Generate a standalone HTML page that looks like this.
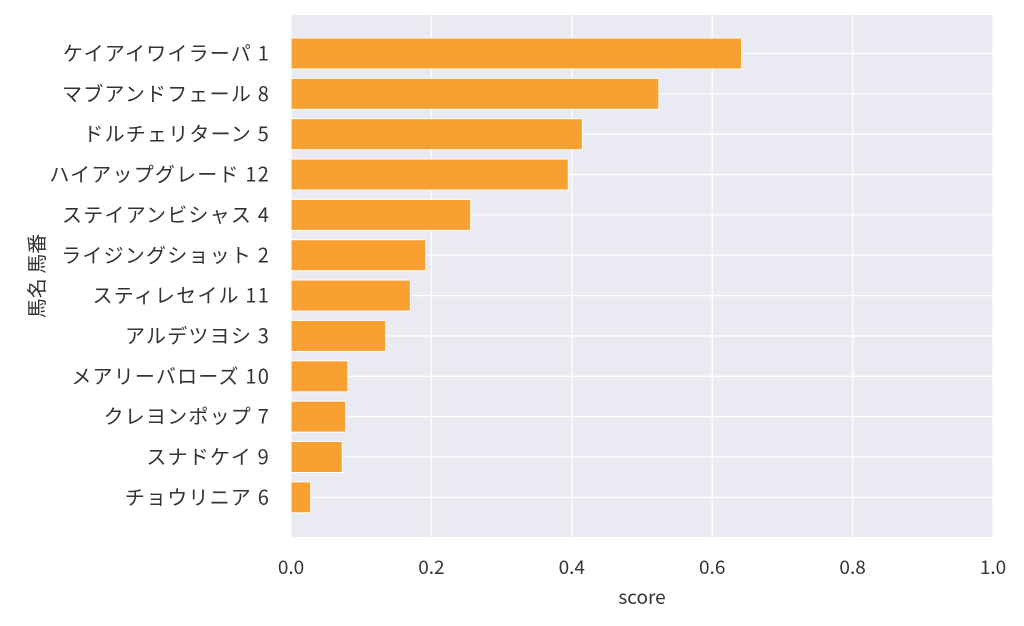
<!DOCTYPE html>
<html><head><meta charset="utf-8"><style>
body{margin:0;background:#fff;}
svg text{font-family:"Noto Sans CJK JP","Liberation Sans",sans-serif;fill:#333;}
</style></head><body>
<svg id="chart" width="1024" height="621" xmlns="http://www.w3.org/2000/svg">
<rect x="291" y="15" width="702" height="522" fill="#eaeaf2"/>
<g id="grid"></g><g id="bars"></g><g id="yticks"></g><g id="xticks"></g>
<text x="642" y="604" font-size="19" text-anchor="middle">score</text>
<text transform="translate(44,276) rotate(-90)" font-size="20" text-anchor="middle">馬名 馬番</text>
</svg>
<script>
const categories=["ケイアイワイラーパ 1","マブアンドフェール 8","ドルチェリターン 5","ハイアップグレード 12","ステイアンビシャス 4","ライジングショット 2","スティレセイル 11","アルデツヨシ 3","メアリーバローズ 10","クレヨンポップ 7","スナドケイ 9","チョウリニア 6"];
const scores=[0.642,0.524,0.415,0.395,0.256,0.192,0.170,0.135,0.081,0.078,0.073,0.028];
const xTicks=[0,0.2,0.4,0.6,0.8,1.0];
const xTickLabels=["0.0","0.2","0.4","0.6","0.8","1.0"];
const NS="http://www.w3.org/2000/svg";
const x=v=>291+v*702;
const y=i=>53.5+i*40.35;
function mk(t,a,p){const e=document.createElementNS(NS,t);for(const k in a)e.setAttribute(k,a[k]);p.appendChild(e);return e;}
const grid=document.getElementById('grid'),bars=document.getElementById('bars'),yt=document.getElementById('yticks'),xt=document.getElementById('xticks');
xTicks.forEach((v,i)=>{
 const l=mk('line',{x1:x(v),x2:x(v),y1:15,y2:537,stroke:'#fff','stroke-width':1.3},grid);
 
 
 const t=mk('text',{x:x(v),y:574,'font-size':19,'text-anchor':'middle'},xt);
 t.textContent=xTickLabels[i];
 
 
});
categories.forEach((c,i)=>{
 const l=mk('line',{x1:291,x2:993,y1:y(i),y2:y(i),stroke:'#fff','stroke-width':1.3},grid);
 
 
 const b=mk('rect',{x:291,y:y(i)-15.5,width:x(scores[i])-291,height:31,fill:'#f9a033',stroke:'#fff','stroke-width':1},bars);
 
 
 const t=mk('text',{x:270,y:y(i)+7,'font-size':20,'letter-spacing':1.2,'text-anchor':'end'},yt);
 t.textContent=c;
 
 
});
</script>
</body></html>
